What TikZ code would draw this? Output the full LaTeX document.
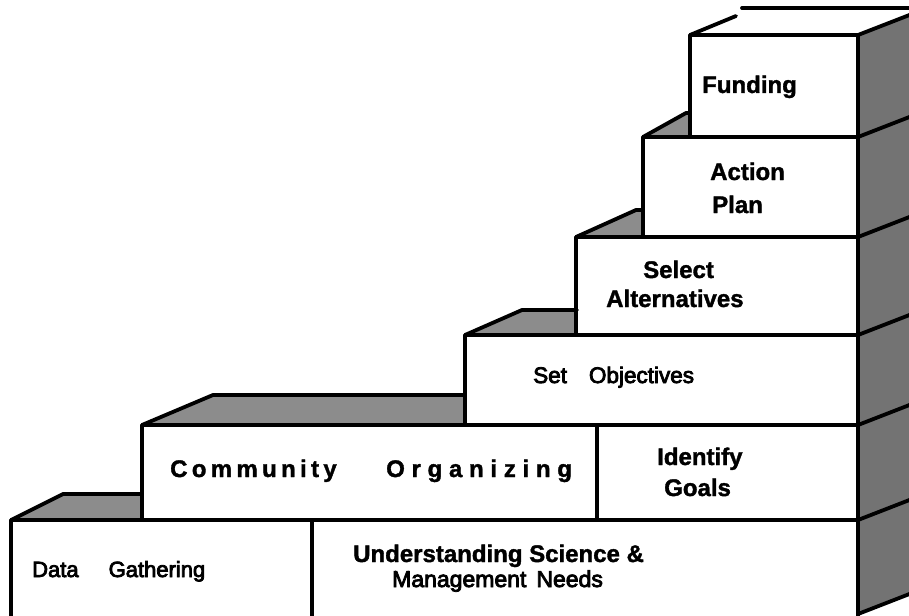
\documentclass[tikz,border=0pt]{standalone}
\usepackage{fontspec}
\setmainfont{Liberation Sans}[BoldFeatures={FakeBold=1.5}]
\newfontfamily\medf{Liberation Sans}[FakeBold=3.6]
\newfontfamily\spcA{Liberation Sans}[LetterSpace=18,BoldFeatures={FakeBold=1.5}]
\newfontfamily\spcB{Liberation Sans}[LetterSpace=28,BoldFeatures={FakeBold=1.5}]
\tikzset{
  edge/.style={line width=3.8pt, line cap=round, line join=round},
  topface/.style={fill=black!45},
  sideface/.style={fill=black!55},
  front/.style={draw, fill=white, line width=3.8pt, line join=round},
  lbl/.style={anchor=base west, inner sep=0pt, font=\bfseries\fontsize{24}{28}\selectfont},
  mlbl/.style={anchor=base west, inner sep=0pt, font=\medf\fontsize{22.5}{27}\selectfont}
}
\begin{document}
\begin{tikzpicture}[x=1pt,y=-1pt]
\useasboundingbox (0,0) rectangle (909,615);
\clip (0,0) rectangle (909,615);
% side faces
\fill[sideface] (858,35) -- (909,15) -- (909,594) -- (858,614) -- cycle;
% top faces
\fill[topface] (11,520) -- (63,494) -- (142,494) -- (142,520) -- cycle;
\fill[topface] (142,425) -- (213,395) -- (465,395) -- (465,425) -- cycle;
\fill[topface] (465,335) -- (522,310) -- (577,310) -- (577,335) -- cycle;
\fill[topface] (576,237) -- (636,210) -- (643,210) -- (643,237) -- cycle;
\fill[topface] (643,137) -- (686,113) -- (690,113) -- (690,137) -- cycle;
% front faces
\draw[front] (11,520) rectangle (312,630);
\draw[front] (312,520) rectangle (858,630);
\draw[front] (142,425) rectangle (597,520);
\draw[front] (597,425) rectangle (858,520);
\draw[front] (465,335) rectangle (858,425);
\draw[front] (576,237) rectangle (858,335);
\draw[front] (643,137) rectangle (858,237);
\draw[front] (690,35) rectangle (858,137);
% top edges
\draw[edge] (11,520) -- (63,494) -- (142,494);
\draw[edge] (142,425) -- (213,395) -- (465,395);
\draw[edge] (465,335) -- (522,310) -- (577,310);
\draw[edge] (576,237) -- (636,210) -- (643,210);
\draw[edge] (643,137) -- (686,113) -- (690,113);
\draw[edge] (690,35) -- (736,16);
\draw[edge] (742,8) -- (912,8);
% side diagonals
\foreach \yy in {35,137,237,335,425,520,614}
  \draw[edge] (858,\yy) -- (912,\yy-21);
% labels
\node[lbl] (funding) at (702,93) {Funding};
\node[lbl] (action) at (710,180) {Action};
\node[lbl] (plan) at (712,213) {Plan};
\node[lbl] (select) at (643,278) {Select};
\node[lbl] (altern) at (606,307) {Alternatives};
\node[mlbl] (setobj) at (533,383) {Set\hspace{22pt}Objectives};
\node[lbl] (identify) at (657,465) {Identify};
\node[lbl] (goals) at (664,496) {Goals};
\node[anchor=base west, inner sep=0pt, font=\spcA\bfseries\fontsize{24}{28}\selectfont] (commun) at (170,477) {Community};
\node[anchor=base west, inner sep=0pt, font=\spcB\bfseries\fontsize{24}{28}\selectfont] (organ) at (386,477) {Organizing};
\node[anchor=base west, inner sep=0pt, font=\medf\fontsize{22}{26}\selectfont] (data) at (32,577) {Data\hspace{30pt}Gathering};
\node[lbl] (underst) at (353,562) {Understanding Science \&};
\node[anchor=base west, inner sep=0pt, font=\medf\fontsize{23}{27}\selectfont] (manage) at (392,587) {Management\hspace{10pt}Needs};
\end{tikzpicture}
\end{document}
